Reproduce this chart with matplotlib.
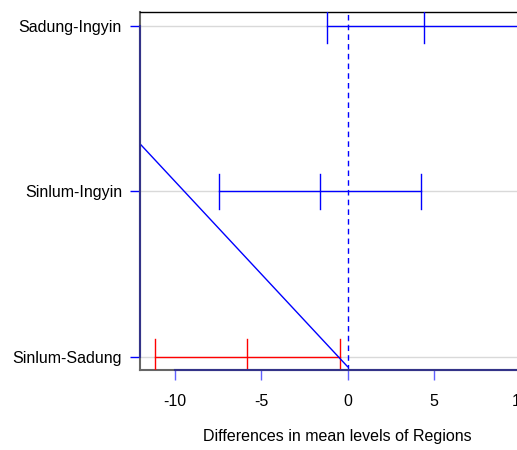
import matplotlib
matplotlib.use("Agg")
from matplotlib import pyplot as plt

plt.rcParams['font.family'] = ['Liberation Sans', 'DejaVu Sans']

# Tukey comparisons (bottom to top)
comparisons = ["Sinlum-Sadung", "Sinlum-Ingyin", "Sadung-Ingyin"]
diff = [-5.85, -1.62, 4.40]
lwr = [-11.18, -7.45, -1.22]
upr = [-0.46, 4.25, 10.02]
colors = ["red", "blue", "blue"]

# stray diagonal line seen in the plot
diag_x = [-12.05, 0.0]
diag_y = [2.29, 0.94]

xticks = [-10, -5, 0, 5, 10]
xlim = (-12.03, 10.87)
ylim = (0.92, 3.085)

fig = plt.figure(figsize=(5.17, 4.5), dpi=100)
ax = fig.add_axes([0.2708, 0.1778, 0.7643, 0.7955])

ys = list(range(1, len(comparisons) + 1))

# grid lines at each comparison
for y in ys:
    ax.axhline(y, color="#d9d9d9", lw=1, zorder=1)

# zero reference
ax.axvline(0, color="blue", lw=1, ls=(0, (4, 3)), zorder=2)

tick_h = 0.105
for y, d, lo, hi, c in zip(ys, diff, lwr, upr, colors):
    ax.plot([lo, hi], [y, y], color=c, lw=1, zorder=3)
    for xv in (lo, d, hi):
        ax.plot([xv, xv], [y - tick_h, y + tick_h], color=c, lw=1, zorder=3)

ax.plot(diag_x, diag_y, color="blue", lw=1, zorder=3)

ax.set_xlim(*xlim)
ax.set_ylim(*ylim)

ax.set_yticks(ys)
ax.set_yticklabels(comparisons, fontsize=11.5)
ax.set_xticks(xticks)
ax.set_xticklabels([str(t) for t in xticks], fontsize=11.5)
ax.tick_params(axis="y", length=7, width=1, color="blue", pad=6)
ax.tick_params(axis="x", length=7, width=1, color="#6060ff", pad=10)

for s in ["left", "bottom"]:
    ax.spines[s].set_color("#666666")
    ax.spines[s].set_linewidth(1.5)
ax.spines["top"].set_color("black")
ax.spines["top"].set_linewidth(1.0)
ax.spines["right"].set_color("black")

# axis lines from first to last tick, drawn over the box
ax.plot([xticks[0], xticks[-1]], [ylim[0], ylim[0]], color="#333388", lw=1.5,
        clip_on=False, zorder=5)
ax.plot([xlim[0], xlim[0]], [ys[0], ys[-1]], color="#333388", lw=1.5,
        clip_on=False, zorder=5)

ax.set_xlabel("Differences in mean levels of Regions", fontsize=11.5, labelpad=15)

fig.savefig("out.png", dpi=100)
